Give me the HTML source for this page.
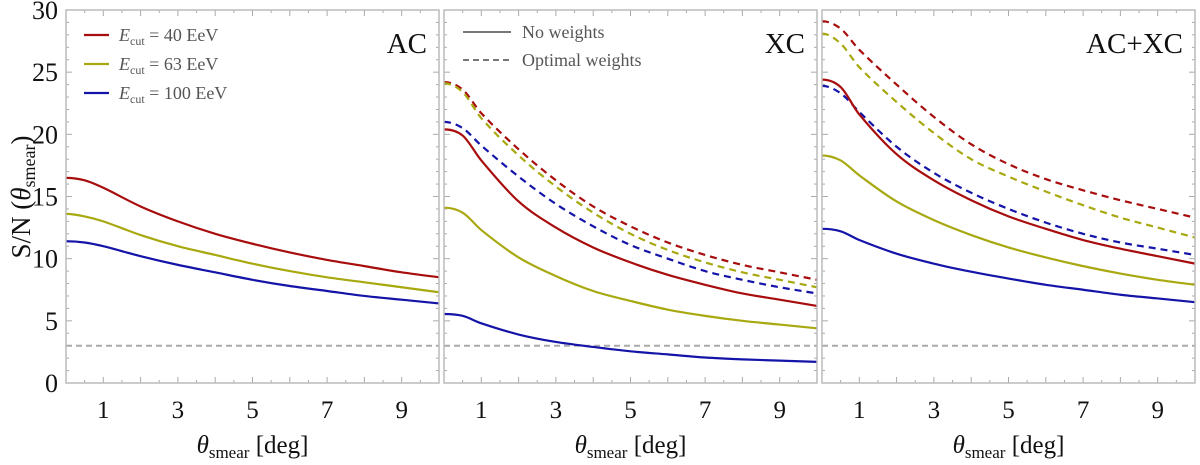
<!DOCTYPE html>
<html><head><meta charset="utf-8"><style>
body{margin:0;background:#fff;}
svg{display:block;font-family:"Liberation Serif",serif;}
</style></head><body>
<svg id="c" width="1200" height="465" viewBox="0 0 1200 465" xmlns="http://www.w3.org/2000/svg"></svg>
<script>
const xs=[0,0.5,1,2,3,4,5,6,7,8,9,10];
const xTicks=[1,3,5,7,9];
const yTicks=[0,5,10,15,20,25,30];
const panelTitles=["AC","XC","AC+XC"];
const threshold=3;
// AC
const acRed=[16.5,16.3,15.7,14.2,13.0,12.0,11.2,10.5,9.9,9.4,8.9,8.5];
const acYel=[13.6,13.4,13.0,11.9,11.0,10.3,9.6,9.0,8.5,8.1,7.7,7.3];
const acBlu=[11.4,11.3,11.0,10.2,9.5,8.9,8.3,7.8,7.4,7.0,6.7,6.4];
// XC
const xcRed=[20.4,19.9,17.9,14.6,12.5,10.9,9.7,8.7,7.9,7.2,6.7,6.2];
const xcYel=[14.1,13.7,12.3,10.1,8.6,7.4,6.6,5.9,5.4,5.0,4.7,4.4];
const xcBlu=[5.55,5.4,4.8,3.9,3.3,2.9,2.55,2.3,2.05,1.9,1.8,1.7];
const xcRedW=[24.2,23.6,21.7,18.8,16.3,14.2,12.6,11.3,10.3,9.5,8.9,8.3];
const xcYelW=[24.1,23.4,21.3,18.3,15.8,13.7,12.0,10.7,9.7,8.9,8.3,7.7];
const xcBluW=[21.0,20.5,19.1,16.6,14.4,12.6,11.1,10.0,9.0,8.3,7.7,7.2];
// AC+XC
const axRed=[24.4,23.8,21.6,18.4,16.3,14.7,13.4,12.4,11.5,10.8,10.2,9.6];
const axYel=[18.3,17.9,16.7,14.6,13.1,11.9,10.9,10.1,9.4,8.8,8.3,7.9];
const axBlu=[12.4,12.2,11.5,10.4,9.6,8.95,8.4,7.9,7.5,7.1,6.8,6.5];
const axRedW=[29.1,28.5,26.8,24.0,21.4,19.2,17.6,16.4,15.5,14.7,14.0,13.3];
const axYelW=[28.1,27.3,25.4,22.6,20.1,18.0,16.6,15.4,14.3,13.3,12.5,11.7];
const axBluW=[23.9,23.3,21.8,19.0,16.9,15.3,14.0,12.9,12.0,11.3,10.8,10.3];

const RED="#a80d0d",YEL="#a8a810",BLU="#1414a8";
const panels=[
 {x0:66,series:[[acRed,RED,0,'ac-red'],[acYel,YEL,0,'ac-yellow'],[acBlu,BLU,0,'ac-blue']]},
 {x0:444,series:[[xcRedW,RED,1,'xc-red-weighted'],[xcYelW,YEL,1,'xc-yellow-weighted'],[xcBluW,BLU,1,'xc-blue-weighted'],[xcRed,RED,0,'xc-red'],[xcYel,YEL,0,'xc-yellow'],[xcBlu,BLU,0,'xc-blue']]},
 {x0:822,series:[[axRedW,RED,1,'acxc-red-weighted'],[axYelW,YEL,1,'acxc-yellow-weighted'],[axBluW,BLU,1,'acxc-blue-weighted'],[axRed,RED,0,'acxc-red'],[axYel,YEL,0,'acxc-yellow'],[axBlu,BLU,0,'acxc-blue']]}
];
const W=373,TOP=10,BOT=383;
const svg=document.getElementById('c');
const NS="http://www.w3.org/2000/svg";
function mk(t,a,p){const e=document.createElementNS(NS,t);for(const k in a)e.setAttribute(k,a[k]);(p||svg).appendChild(e);return e;}
const yS=v=>BOT-(v/30)*(BOT-TOP);
// Hermite spline in data space, then map
function path(X,Y,xS){
 const n=X.length,m=[];
 for(let i=0;i<n;i++){
  if(i===0)m.push(0);
  else if(i===n-1)m.push((Y[i]-Y[i-1])/(X[i]-X[i-1]));
  else m.push((Y[i+1]-Y[i-1])/(X[i+1]-X[i-1]));
 }
 let d=`M${xS(X[0])},${yS(Y[0])}`;
 for(let i=0;i<n-1;i++){const h=X[i+1]-X[i];
  d+=` C${xS(X[i]+h/3)},${yS(Y[i]+m[i]*h/3)} ${xS(X[i+1]-h/3)},${yS(Y[i+1]-m[i+1]*h/3)} ${xS(X[i+1])},${yS(Y[i+1])}`;}
 return d;}
panels.forEach((P,pi)=>{
 const xS=v=>P.x0+v/10*W;
 const g=mk('g',{});
 
 
 for(let t=0;t<=10;t+=0.5){const L=(t%1===0)?6:3;const x=xS(t);
  mk('line',{x1:x,y1:BOT,x2:x,y2:BOT-L,stroke:'#aaa','stroke-width':1},g);
  mk('line',{x1:x,y1:TOP,x2:x,y2:TOP+L,stroke:'#aaa','stroke-width':1},g);}
 for(let t=0;t<=30;t+=1){const L=(t%5===0)?6:3;const y=yS(t);
  mk('line',{x1:P.x0,y1:y,x2:P.x0+L,y2:y,stroke:'#aaa','stroke-width':1},g);
  mk('line',{x1:P.x0+W,y1:y,x2:P.x0+W-L,y2:y,stroke:'#aaa','stroke-width':1},g);}
 const th=mk('line',{x1:P.x0,y1:yS(threshold),x2:P.x0+W,y2:yS(threshold),stroke:'#aaa','stroke-width':2,'stroke-dasharray':'6,4'},g);
 
 
 P.series.forEach(s=>{
  const el=mk('path',{d:path(xs,s[0],xS),fill:'none',stroke:s[1],'stroke-width':2.2},g);
  if(s[2])el.setAttribute('stroke-dasharray','7,5');
  
  
 });
 mk('rect',{x:P.x0,y:TOP,width:W,height:BOT-TOP,fill:'none',stroke:'#bbb','stroke-width':1.5},g);
 const tt=mk('text',{x:P.x0+W-12,y:53,'text-anchor':'end','font-size':29,fill:'#111'},g);tt.textContent=panelTitles[pi];
 
 
 xTicks.forEach(t=>{const e=mk('text',{x:xS(t),y:418,'text-anchor':'middle','font-size':25,fill:'#111'},g);e.textContent=t;
  
  });
 const xt=mk('text',{x:P.x0+W/2,y:453,'text-anchor':'middle','font-size':25,fill:'#111'},g);
 xt.innerHTML='<tspan font-style="italic">θ</tspan><tspan font-size="17" dy="5">smear</tspan><tspan dy="-5"> [deg]</tspan>';
 
 
});
yTicks.forEach(t=>{const e=mk('text',{x:58,y:yS(t)+9,'text-anchor':'end','font-size':26,fill:'#111'});e.textContent=t;
 
 });
const yt=mk('text',{transform:'translate(30,197) rotate(-90)','text-anchor':'middle','font-size':27,fill:'#111'});
yt.innerHTML='S/N (<tspan font-style="italic">θ</tspan><tspan font-size="18" dy="5">smear</tspan><tspan dy="-5">)</tspan>';


const leg1=[['40',RED],['63',YEL],['100',BLU]];
leg1.forEach((l,i)=>{const y=35+i*29;
 const g=mk('g',{});
 
 
 mk('line',{x1:84,y1:y,x2:109,y2:y,stroke:l[1],'stroke-width':2.2},g);
 const t=mk('text',{x:119,y:y+6,'font-size':18,fill:'#555'},g);
 t.innerHTML='<tspan font-style="italic">E</tspan><tspan font-size="12" dy="4">cut</tspan><tspan dy="-4"> = '+l[0]+' EeV</tspan>';});
[['No weights',0],['Optimal weights',1]].forEach((l,i)=>{const y=32+i*28;
 const g=mk('g',{});
 
 
 const ln=mk('line',{x1:463,y1:y,x2:511,y2:y,stroke:'#777','stroke-width':2},g);
 if(l[1])ln.setAttribute('stroke-dasharray','6,4');
 const t=mk('text',{x:522,y:y+6,'font-size':18,fill:'#555'},g);t.textContent=l[0];});
</script>
</body></html>
